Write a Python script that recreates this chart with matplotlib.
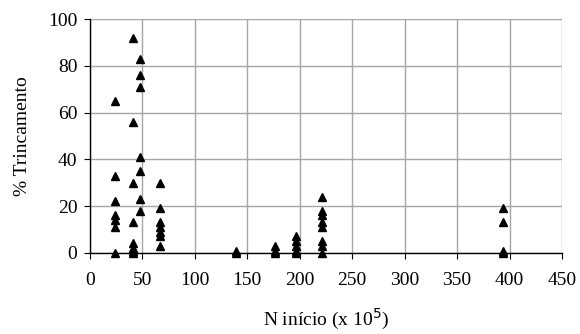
import matplotlib.pyplot as plt

# N inicio (x 10^5) and % trincamento, grouped by N value
n_groups = [24, 41, 48, 67, 139, 176, 196, 221, 394]
trinc_groups = [
    [65, 33, 22, 16, 14, 11, 0],
    [92, 56, 30, 13, 4, 2, 1, 0],
    [83, 76, 71, 41, 35, 23, 18],
    [30, 19, 13, 11, 9, 7, 3],
    [1, 0],
    [3, 1, 0],
    [7, 5, 3, 1, 0],
    [24, 18, 16, 13, 11, 5, 3, 0],
    [19, 13, 1, 0],
]

x = []
y = []
for n, vals in zip(n_groups, trinc_groups):
    for v in vals:
        x.append(n)
        y.append(v)

plt.rcParams['font.family'] = ['Liberation Serif', 'DejaVu Serif']

fig = plt.figure(figsize=(5.8, 3.34), dpi=100)
ax = fig.add_axes([0.155, 0.243, 0.814, 0.700])

ax.plot(x, y, linestyle='none', marker='^', color='black', markersize=6, clip_on=False, zorder=3)

ax.set_xlim(0, 450)
ax.set_ylim(0, 100)
ax.set_xticks(range(0, 451, 50))
ax.set_yticks(range(0, 101, 20))
ax.grid(True, color='#a6a6a6', linewidth=1)
ax.set_axisbelow(True)
for s in ['top', 'right']:
    ax.spines[s].set_visible(False)
ax.spines['left'].set_linewidth(1)
ax.spines['bottom'].set_linewidth(1)
ax.tick_params(direction='out', length=4, labelsize=14)
ax.tick_params(axis='x', pad=10)
ax.tick_params(axis='y', pad=5)

ax.set_xlabel('N início (x 10$^5$)', fontsize=14, labelpad=13)
ax.set_ylabel('% Trincamento', fontsize=14, labelpad=12)

fig.savefig('out.png', dpi=100)
